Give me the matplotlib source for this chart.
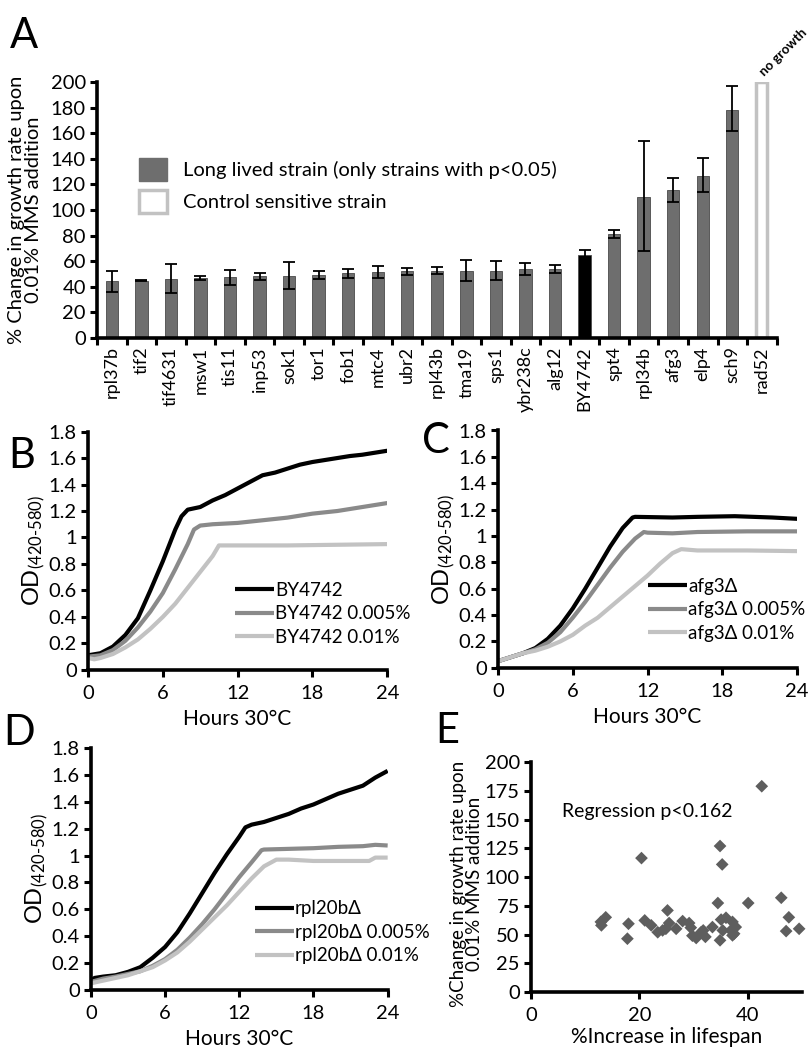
import numpy as np
import matplotlib
matplotlib.use("Agg")
import matplotlib.pyplot as plt
from matplotlib.patches import Patch

plt.rcParams['font.family'] = ['Lato', 'DejaVu Sans']
plt.rcParams['mathtext.fontset'] = 'custom'
plt.rcParams['mathtext.rm'] = 'Lato'
plt.rcParams['mathtext.it'] = 'Lato:italic'

# Panel A data
strains = ['rpl37b', 'tif2', 'tif4631', 'msw1', 'tis11', 'inp53', 'sok1', 'tor1',
           'fob1', 'mtc4', 'ubr2', 'rpl43b', 'tma19', 'sps1', 'ybr238c', 'alg12',
           'BY4742', 'spt4', 'rpl34b', 'afg3', 'elp4', 'sch9', 'rad52']
growth_change = [44.2, 44.7, 46.0, 46.8, 47.5, 48.8, 48.8, 49.4, 50.6, 51.7, 52.5,
                 52.7, 52.7, 52.7, 53.8, 53.8, 65.0, 81.3, 110.4, 115.6, 126.8, 178.4]
err_hi = [52.5, 45.2, 57.7, 48.6, 53.2, 51.2, 59.5, 52.2, 54.0, 56.6, 54.8,
          55.8, 61.0, 60.5, 59.0, 56.9, 69.0, 84.4, 153.5, 125.2, 140.5, 196.6]
err_lo = [35.6, 44.2, 35.0, 45.0, 41.3, 45.5, 38.2, 46.2, 46.8, 46.8, 49.4,
          49.9, 44.7, 45.5, 49.4, 50.6, 61.0, 78.4, 68.0, 106.5, 113.8, 161.6]
no_growth_value = 200

# Panel B data
b_t_wt = [0, 1, 2, 3, 4, 5, 6, 7, 7.5, 8, 9, 10, 11, 12, 13, 14, 15, 16, 17, 18, 19, 20, 21, 22, 23, 24]
b_wt = [0.11, 0.126, 0.176, 0.264, 0.39, 0.60, 0.82, 1.06, 1.16, 1.21, 1.23, 1.28, 1.32,
        1.37, 1.42, 1.47, 1.49, 1.52, 1.55, 1.57, 1.585, 1.60, 1.615, 1.625, 1.64, 1.655]
b_t_low = [0, 1, 2, 3, 4, 5, 6, 7, 8, 8.5, 9, 10, 12, 14, 16, 18, 20, 22, 24]
b_low = [0.10, 0.11, 0.15, 0.22, 0.32, 0.44, 0.58, 0.76, 0.95, 1.06, 1.09, 1.10, 1.11,
         1.13, 1.15, 1.18, 1.20, 1.23, 1.26]
b_t_high = [0, 0.5, 1, 2, 3, 4, 5, 6, 7, 8, 9, 10, 10.5, 12, 16, 20, 24]
b_high = [0.09, 0.08, 0.09, 0.12, 0.17, 0.23, 0.31, 0.40, 0.50, 0.62, 0.74, 0.86, 0.94,
          0.94, 0.94, 0.945, 0.95]

# Panel C data
c_t_wt = [0, 1, 2, 3, 4, 5, 6, 7, 8, 9, 10, 10.8, 11, 14, 16, 19, 22, 24]
c_wt = [0.05, 0.08, 0.11, 0.15, 0.22, 0.32, 0.45, 0.60, 0.76, 0.92, 1.06, 1.14, 1.145,
        1.14, 1.145, 1.15, 1.14, 1.13]
c_t_low = [0, 1, 2, 3, 4, 5, 6, 7, 8, 9, 10, 11, 11.7, 12, 14, 16, 20, 24]
c_low = [0.05, 0.08, 0.11, 0.14, 0.19, 0.27, 0.38, 0.50, 0.63, 0.76, 0.88, 0.98, 1.03,
         1.025, 1.02, 1.03, 1.035, 1.035]
c_t_high = [0, 1, 2, 3, 4, 5, 6, 7, 8, 9, 10, 11, 12, 13, 14, 14.7, 16, 18, 20, 24]
c_high = [0.05, 0.08, 0.11, 0.13, 0.16, 0.20, 0.25, 0.32, 0.38, 0.46, 0.54, 0.62, 0.70,
          0.79, 0.87, 0.90, 0.89, 0.89, 0.89, 0.885]

# Panel D data
d_t_wt = [0, 0.3, 1, 2, 3, 4, 5, 6, 7, 8, 9, 10, 11, 12, 12.5, 13, 14, 15, 16, 17, 18,
          19, 20, 21, 22, 22.5, 23, 24]
d_wt = [0.07, 0.09, 0.10, 0.11, 0.135, 0.17, 0.24, 0.32, 0.43, 0.57, 0.72, 0.87, 1.01,
        1.14, 1.21, 1.23, 1.25, 1.28, 1.31, 1.35, 1.38, 1.42, 1.46, 1.49, 1.52, 1.55, 1.58, 1.63]
d_t_low = [0, 1, 2, 3, 4, 5, 6, 7, 8, 9, 10, 11, 12, 13, 13.8, 14, 16, 18, 20, 22, 23, 24]
d_low = [0.06, 0.085, 0.10, 0.12, 0.14, 0.18, 0.23, 0.30, 0.39, 0.49, 0.60, 0.72, 0.84,
         0.95, 1.04, 1.045, 1.05, 1.055, 1.065, 1.07, 1.08, 1.075]
d_t_high = [0, 1, 2, 3, 4, 5, 6, 7, 8, 9, 10, 11, 12, 13, 14, 15, 16, 17, 18, 20, 22,
            22.5, 23, 24]
d_high = [0.05, 0.07, 0.09, 0.11, 0.14, 0.17, 0.22, 0.28, 0.36, 0.45, 0.54, 0.63, 0.73,
          0.83, 0.92, 0.97, 0.97, 0.965, 0.96, 0.96, 0.96, 0.96, 0.985, 0.985]

# Panel E data
lifespan_increase = [42.6, 34.9, 35.3, 20.4, 34.5, 40.1, 46.2, 47.6, 47.1, 49.5, 12.9,
                     13.8, 13.0, 18.0, 17.8, 21.0, 22.2, 23.4, 24.3, 25.2, 24.9, 25.5,
                     26.8, 28.0, 29.2, 29.5, 29.8, 30.5, 31.4, 31.8, 32.2, 33.5, 35.1,
                     34.9, 35.4, 36.0, 37.2, 37.5, 37.8, 36.9, 37.2]
mms_change = [179, 127, 111, 116.5, 77.4, 77.4, 82, 65, 53, 55, 61,
              65, 58, 59.4, 46.4, 62.3, 58, 52, 53.6, 71, 55, 60,
              55, 61.7, 60, 56, 49, 47, 52, 53.6, 48, 56.5, 63,
              45, 53.6, 64.6, 61, 50.7, 56.5, 53.6, 49.3]

SPINE_W = 2.6
GRAY = '#8a8a8a'
LIGHT = '#c2c2c2'


def style_axes(ax):
    for s in ['top', 'right']:
        ax.spines[s].set_visible(False)
    for s in ['left', 'bottom']:
        ax.spines[s].set_linewidth(SPINE_W)
    ax.tick_params(direction='out', width=2.2, length=5, labelsize=14.5, pad=3)


fig = plt.figure(figsize=(8.11, 10.5), dpi=100)

# ---------------- Panel A ----------------
axA = fig.add_axes([0.1196, 0.678, 0.838, 0.244])
style_axes(axA)
x = np.arange(len(strains))
colors = ['#6e6e6e'] * len(growth_change)
colors[strains.index('BY4742')] = 'black'
vals = np.array(growth_change)
yerr = np.array([vals - np.array(err_lo), np.array(err_hi) - vals])
axA.bar(x[:-1], vals, width=0.42, color=colors, edgecolor='#4a4a4a', linewidth=0.6)
axA.errorbar(x[:-1], vals, yerr=yerr, fmt='none', ecolor='black', elinewidth=1.3,
             capsize=4, capthick=1.3)
axA.bar(x[-1], no_growth_value, width=0.38, color='white', edgecolor=LIGHT, linewidth=2.5)
axA.text(x[-1] - 0.15, 203, 'no growth', rotation=45, ha='left', va='bottom',
         fontsize=9.5, fontweight='bold', clip_on=False)
axA.set_xlim(-0.5, len(strains) - 0.5)
axA.set_ylim(0, 200)
axA.set_yticks(np.arange(0, 201, 20))
axA.set_xticks(x)
axA.set_xticklabels(strains, rotation=90, fontsize=13)
axA.tick_params(axis='x', length=0, pad=6)
axA.set_xticks(np.arange(-0.5, len(strains), 1), minor=True)
axA.tick_params(axis='x', which='minor', direction='out', length=5, width=2.2)
axA.set_ylabel('% Change in growth rate upon\n0.01% MMS addition', fontsize=14.5,
               linespacing=1.0, labelpad=6)
legA = axA.legend(handles=[Patch(facecolor='#6e6e6e', edgecolor='#6e6e6e'),
                           Patch(facecolor='white', edgecolor=LIGHT, linewidth=2.5)],
                  labels=['Long lived strain (only strains with p<0.05)',
                          'Control sensitive strain'],
                  loc='upper left', bbox_to_anchor=(0.035, 0.775), frameon=False,
                  fontsize=14.5, handlelength=1.4, handleheight=1.4, labelspacing=0.45,
                  handletextpad=0.8)
fig.text(0.012, 0.984, 'A', fontsize=30, va='top')


def growth_panel(rect, curves, labels, legend_anchor, letter_pos, letter):
    ax = fig.add_axes(rect)
    style_axes(ax)
    for (t, y), c, lab in zip(curves, ['black', GRAY, LIGHT], labels):
        ax.plot(t, y, color=c, lw=3, label=lab, solid_capstyle='butt')
    ax.set_xlim(0, 24)
    ax.set_ylim(0, 1.8)
    ax.set_xticks([0, 6, 12, 18, 24])
    ax.set_yticks(np.arange(0, 1.81, 0.2))
    ax.set_yticklabels(['0', '0.2', '0.4', '0.6', '0.8', '1', '1.2', '1.4', '1.6', '1.8'])
    ax.tick_params(axis='x', pad=6)
    ax.set_xlabel('Hours 30°C', fontsize=15, labelpad=5)
    ax.set_ylabel(r'OD$_{\mathrm{(420\text{-}580)}}$', fontsize=17, labelpad=1)
    ax.legend(loc='upper left', bbox_to_anchor=legend_anchor, frameon=False,
              fontsize=13.5, handlelength=2.1, handletextpad=0.05, labelspacing=0.35,
              borderpad=0)
    fig.text(letter_pos[0], letter_pos[1], letter, fontsize=30, va='top')
    return ax


growth_panel([0.1085, 0.362, 0.369, 0.227],
             [(b_t_wt, b_wt), (b_t_low, b_low), (b_t_high, b_high)],
             ['BY4742', 'BY4742 0.005%', 'BY4742 0.01%'],
             (0.46, 0.41), (0.010, 0.584), 'B')
growth_panel([0.614, 0.364, 0.369, 0.226],
             [(c_t_wt, c_wt), (c_t_low, c_low), (c_t_high, c_high)],
             ['afg3Δ', 'afg3Δ 0.005%', 'afg3Δ 0.01%'],
             (0.47, 0.42), (0.520, 0.598), 'C')
growth_panel([0.112, 0.0571, 0.366, 0.2305],
             [(d_t_wt, d_wt), (d_t_low, d_low), (d_t_high, d_high)],
             ['rpl20bΔ', 'rpl20bΔ 0.005%', 'rpl20bΔ 0.01%'],
             (0.52, 0.41), (0.004, 0.320), 'D')

# ---------------- Panel E ----------------
axE = fig.add_axes([0.6547, 0.0552, 0.334, 0.219])
style_axes(axE)
axE.scatter(lifespan_increase, mms_change, marker='D', s=42, color='#5e5e5e',
            edgecolors='none', clip_on=False, zorder=3)
axE.set_xlim(0, 50)
axE.set_ylim(0, 200)
axE.set_xticks([0, 20, 40])
axE.set_yticks(np.arange(0, 201, 25))
axE.tick_params(axis='x', pad=6)
axE.set_xlabel('%Increase in lifespan', fontsize=15, labelpad=2)
axE.set_ylabel('%Change in growth rate upon\n0.01% MMS addition', fontsize=13.5,
               linespacing=0.95, labelpad=1, y=0.47)
axE.text(5.8, 157, 'Regression p<0.162', fontsize=14, va='center')
fig.text(0.537, 0.322, 'E', fontsize=30, va='top')

fig.savefig('out.png', dpi=100)
